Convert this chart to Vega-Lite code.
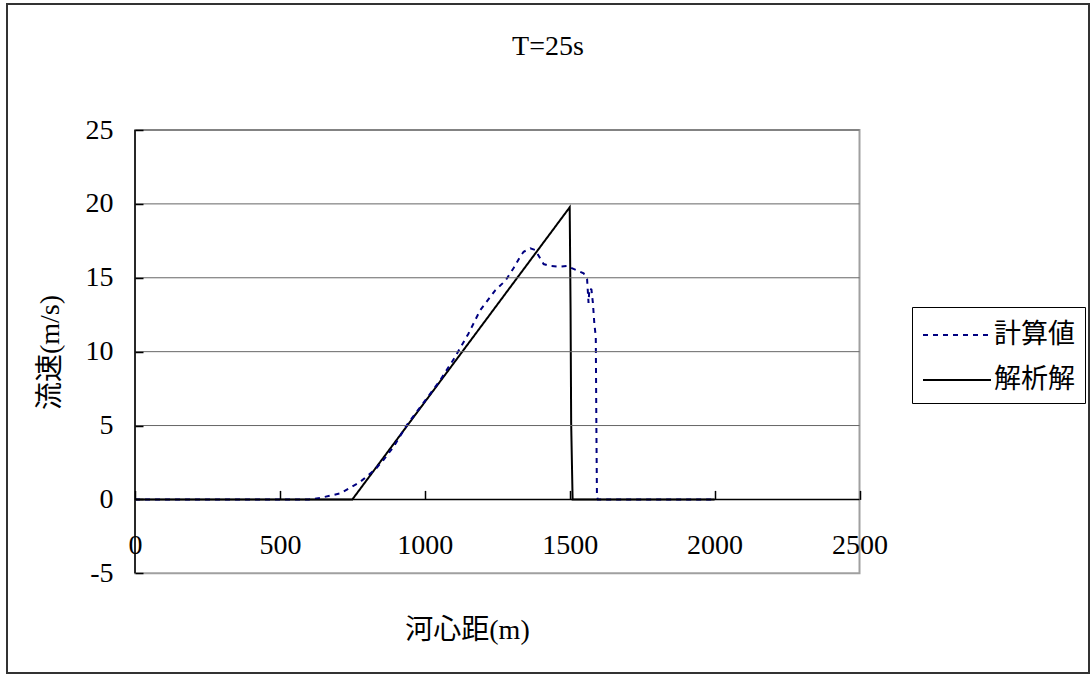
{
  "$schema": "https://vega.github.io/schema/vega-lite/v6.json",
  "width": 1082,
  "height": 669,
  "autosize": {"type": "none"},
  "padding": {"left": 7, "top": 4, "right": 3, "bottom": 2},
  "background": "white",
  "config": {
    "view": {"stroke": "#333333", "strokeWidth": 2},
    "font": "Liberation Serif, Noto Sans CJK JP"
  },
  "title": {
    "text": "T=25s",
    "fontSize": 28,
    "fontWeight": "normal",
    "font": "Liberation Serif",
    "color": "#000000",
    "anchor": "middle",
    "frame": "group",
    "offset": -57
  },
  "datasets": {
    "series": [
      {"s": "解析解", "x": 0, "y": 0},
      {"s": "解析解", "x": 750, "y": 0},
      {"s": "解析解", "x": 1500, "y": 19.77},
      {"s": "解析解", "x": 1503, "y": 12.8},
      {"s": "解析解", "x": 1505, "y": 5.2},
      {"s": "解析解", "x": 1510, "y": 0},
      {"s": "解析解", "x": 2000, "y": 0},
      {"s": "計算値", "x": 0, "y": 0},
      {"s": "計算値", "x": 600, "y": 0},
      {"s": "計算値", "x": 639, "y": 0.1},
      {"s": "計算値", "x": 708, "y": 0.41},
      {"s": "計算値", "x": 777, "y": 1.19},
      {"s": "計算値", "x": 829, "y": 2.03},
      {"s": "計算値", "x": 857, "y": 2.66},
      {"s": "計算値", "x": 892, "y": 3.56},
      {"s": "計算値", "x": 938, "y": 5.03},
      {"s": "計算値", "x": 1007, "y": 6.84},
      {"s": "計算値", "x": 1053, "y": 8.07},
      {"s": "計算値", "x": 1100, "y": 9.5},
      {"s": "計算値", "x": 1150, "y": 11.2},
      {"s": "計算値", "x": 1191, "y": 12.8},
      {"s": "計算値", "x": 1243, "y": 14.15},
      {"s": "計算値", "x": 1278, "y": 14.8},
      {"s": "計算値", "x": 1306, "y": 15.64},
      {"s": "計算値", "x": 1329, "y": 16.43},
      {"s": "計算値", "x": 1341, "y": 16.76},
      {"s": "計算値", "x": 1364, "y": 16.99},
      {"s": "計算値", "x": 1381, "y": 16.88},
      {"s": "計算値", "x": 1398, "y": 16.32},
      {"s": "計算値", "x": 1410, "y": 15.93},
      {"s": "計算値", "x": 1433, "y": 15.8},
      {"s": "計算値", "x": 1462, "y": 15.75},
      {"s": "計算値", "x": 1490, "y": 15.8},
      {"s": "計算値", "x": 1513, "y": 15.6},
      {"s": "計算値", "x": 1525, "y": 15.5},
      {"s": "計算値", "x": 1548, "y": 15.3},
      {"s": "計算値", "x": 1560, "y": 14.9},
      {"s": "計算値", "x": 1565, "y": 13.3},
      {"s": "計算値", "x": 1568, "y": 14.3},
      {"s": "計算値", "x": 1575, "y": 14.2},
      {"s": "計算値", "x": 1580, "y": 13.3},
      {"s": "計算値", "x": 1585, "y": 11.9},
      {"s": "計算値", "x": 1590, "y": 11.0},
      {"s": "計算値", "x": 1592, "y": 5.0},
      {"s": "計算値", "x": 1594, "y": 0.2},
      {"s": "計算値", "x": 1597, "y": 0},
      {"s": "計算値", "x": 2000, "y": 0}
    ],
    "grid": [{"v": 5}, {"v": 10}, {"v": 15}, {"v": 20}, {"v": 25}]
  },
  "layer": [
    {
      "data": {"name": "series"},
      "mark": {"type": "line", "strokeWidth": 2},
      "encoding": {
        "x": {
          "field": "x", "type": "quantitative",
          "scale": {"domain": [-441.7, 3291.9], "nice": false, "zero": false},
          "axis": {
            "orient": "bottom", "offset": -173.6, "zindex": 1,
            "values": [0, 500, 1000, 1500, 2000, 2500],
            "labelExpr": "'' + datum.value",
            "domain": false, "grid": false,
            "ticks": true, "tickSize": -9, "tickColor": "#000000", "tickWidth": 1.5,
            "labelFontSize": 28, "labelFont": "Liberation Serif", "labelColor": "#000000",
            "labelPadding": 41, "labelFlush": false, "labelOverlap": false,
            "title": "河心距(m)", "titleFont": "Liberation Serif, Noto Sans CJK JP",
            "titleFontSize": 28, "titleFontWeight": "normal", "titleColor": "#000000",
            "titleX": 460, "titleY": 131, "titleBaseline": "middle", "titleAlign": "center"
          }
        },
        "y": {
          "field": "y", "type": "quantitative",
          "scale": {"domain": [-11.746, 33.527], "nice": false, "zero": false},
          "axis": {
            "orient": "left", "offset": -128, "zindex": 1,
            "values": [-5, 0, 5, 10, 15, 20, 25],
            "labelExpr": "'' + datum.value",
            "domain": false, "grid": false,
            "ticks": true, "tickSize": -8, "tickColor": "#000000", "tickWidth": 1.5,
            "labelFontSize": 28, "labelFont": "Liberation Serif", "labelColor": "#000000",
            "labelPadding": 30, "labelFlush": false, "labelOverlap": false,
            "title": "流速(m/s)", "titleFont": "Liberation Serif, Noto Sans CJK JP",
            "titleFontSize": 28, "titleFontWeight": "normal", "titleColor": "#000000",
            "titleX": -85, "titleY": 348, "titleBaseline": "middle", "titleAlign": "center", "titleAngle": -90
          }
        },
        "color": {
          "field": "s", "type": "nominal",
          "scale": {"domain": ["計算値", "解析解"], "range": ["#000080", "#000000"]},
          "legend": {
            "orient": "none", "legendX": 905, "legendY": 303, "title": null,
            "symbolType": "M-2,0H2", "symbolSize": 1156, "symbolStrokeWidth": 2,
            "symbolOffset": 17,
            "labelFontSize": 27, "labelFont": "Noto Sans CJK JP", "labelColor": "#000000",
            "labelOffset": 19, "padding": 10, "rowPadding": 14,
            "strokeColor": "#000000", "fillColor": "#ffffff", "cornerRadius": 0
          }
        },
        "strokeDash": {
          "field": "s", "type": "nominal",
          "scale": {"domain": ["計算値", "解析解"], "range": [[5, 5], [1, 0]]},
          "legend": {
            "orient": "none", "legendX": 905, "legendY": 303, "title": null,
            "symbolType": "M-2,0H2", "symbolSize": 1156, "symbolStrokeWidth": 2,
            "symbolOffset": 17,
            "labelFontSize": 27, "labelFont": "Noto Sans CJK JP", "labelColor": "#000000",
            "labelOffset": 19, "padding": 10, "rowPadding": 14,
            "strokeColor": "#000000", "fillColor": "#ffffff", "cornerRadius": 0
          }
        }
      }
    },
    {
      "data": {"values": [{}]},
      "mark": {"type": "rect", "fillOpacity": 0, "stroke": "#a0a0a0", "strokeWidth": 2},
      "encoding": {
        "x": {"datum": 0, "type": "quantitative", "scale": {"domain": [-441.7, 3291.9], "nice": false, "zero": false}},
        "x2": {"datum": 2500},
        "y": {"datum": -5, "type": "quantitative", "scale": {"domain": [-11.746, 33.527], "nice": false, "zero": false}},
        "y2": {"datum": 25}
      }
    },
    {
      "data": {"name": "grid"},
      "mark": {"type": "rule", "color": "#666666", "strokeWidth": 1},
      "encoding": {
        "x": {"datum": 0, "type": "quantitative", "scale": {"domain": [-441.7, 3291.9], "nice": false, "zero": false}},
        "x2": {"datum": 2500},
        "y": {"field": "v", "type": "quantitative", "scale": {"domain": [-11.746, 33.527], "nice": false, "zero": false}}
      }
    },
    {
      "data": {"values": [{}]},
      "mark": {"type": "rule", "color": "#000000", "strokeWidth": 1.5},
      "encoding": {
        "x": {"datum": 0, "type": "quantitative", "scale": {"domain": [-441.7, 3291.9], "nice": false, "zero": false}},
        "x2": {"datum": 2500},
        "y": {"datum": 0, "type": "quantitative", "scale": {"domain": [-11.746, 33.527], "nice": false, "zero": false}}
      }
    },
    {
      "data": {"values": [{}]},
      "mark": {"type": "rule", "color": "#000000", "strokeWidth": 1.5},
      "encoding": {
        "x": {"datum": 0, "type": "quantitative", "scale": {"domain": [-441.7, 3291.9], "nice": false, "zero": false}},
        "y": {"datum": -5, "type": "quantitative", "scale": {"domain": [-11.746, 33.527], "nice": false, "zero": false}},
        "y2": {"datum": 25}
      }
    }
  ]
}
